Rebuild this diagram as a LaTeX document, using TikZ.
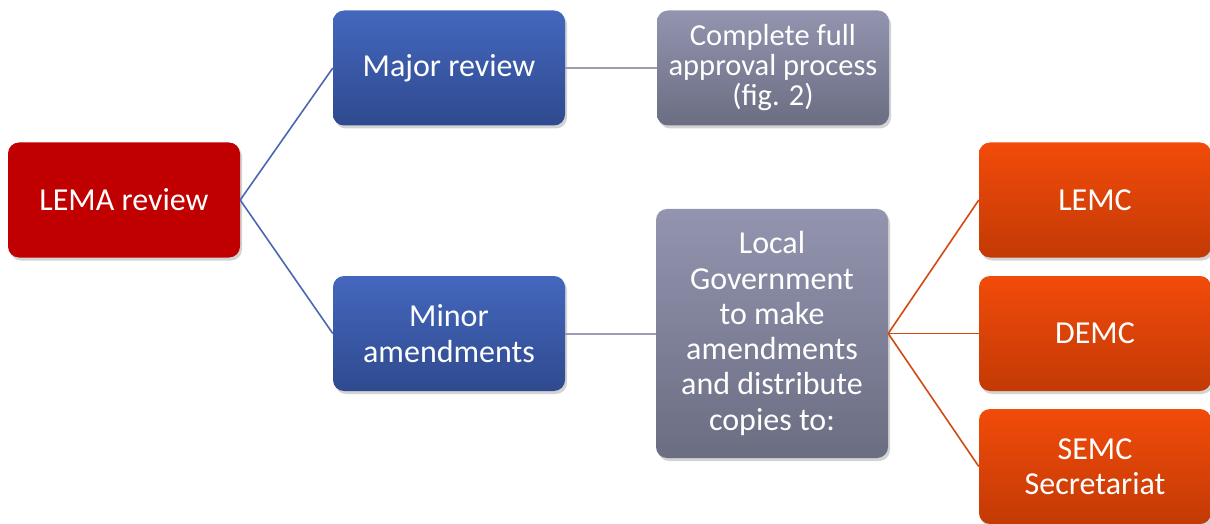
\documentclass[tikz,border=0pt]{standalone}
\usepackage{fontspec}
\setmainfont{Carlito}
\usetikzlibrary{shadows}
\definecolor{redbox}{HTML}{C00000}
\definecolor{bluetop}{HTML}{4467BE}
\definecolor{bluebot}{HTML}{2F4A8E}
\definecolor{graytop}{HTML}{9395B0}
\definecolor{graybot}{HTML}{6B6D82}
\definecolor{orangetop}{HTML}{F24B0A}
\definecolor{orangebot}{HTML}{C33A05}
\definecolor{bluelink}{HTML}{4A67B0}
\definecolor{graylink}{HTML}{9C9CB4}
\definecolor{orangelink}{HTML}{D24A12}
\tikzset{
  x=1pt, y=1pt,
  box/.style={rectangle, rounded corners=11pt, minimum width=232pt, minimum height=115pt,
    inner sep=0pt, align=center, text=white, font=\fontsize{32}{35.3}\selectfont,
    drop shadow={opacity=0.35, shadow xshift=2pt, shadow yshift=-3pt}},
  redfill/.style={box, fill=redbox},
  bluefill/.style={box, top color=bluetop, bottom color=bluebot},
  grayfill/.style={box, top color=graytop, bottom color=graybot},
  orangefill/.style={box, top color=orangetop, bottom color=orangebot},
  bluecon/.style={draw=bluelink, line width=1.6pt},
  graycon/.style={draw=graylink, line width=2pt},
  orangecon/.style={draw=orangelink, line width=1.6pt}
}
\begin{document}
\begin{tikzpicture}
\useasboundingbox (0,0) rectangle (1210,523);
\node[redfill] (lema) at (124,323) {LEMA review};
\node[bluefill] (major) at (449,455) {Major review};
\node[grayfill, font=\fontsize{30.5}{30}\selectfont] (complete) at (773,455) {Complete full\\approval process\\(fig. 2)};
\node[bluefill] (minor) at (449,189.5) {Minor\\amendments};
\node[grayfill, minimum height=249pt] (local) at (772,189.5) {Local\\Government\\to make\\amendments\\and distribute\\copies to:};
\node[orangefill] (lemc) at (1095,323) {LEMC};
\node[orangefill] (demc) at (1095,189.5) {DEMC};
\node[orangefill] (semc) at (1095,56.5) {SEMC\\Secretariat};
\draw[bluecon] (lema.east) -- (major.west);
\draw[bluecon] (lema.east) -- (minor.west);
\draw[graycon] (major.east) -- (complete.west);
\draw[graycon] (minor.east) -- (local.west);
\draw[orangecon] (local.east) -- (lemc.west);
\draw[orangecon] (local.east) -- (demc.west);
\draw[orangecon] (local.east) -- (semc.west);
\end{tikzpicture}
\end{document}
